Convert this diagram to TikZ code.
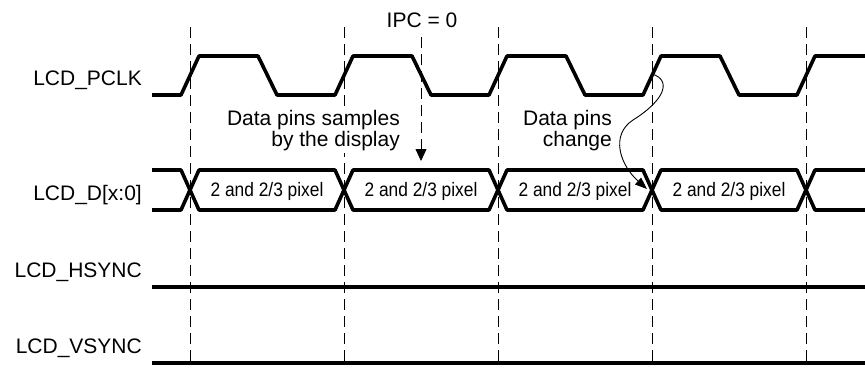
\documentclass[tikz,border=0pt]{standalone}
\usepackage{fontspec}
\setmainfont{Liberation Sans}
\newfontfamily\narrowfont{Liberation Sans}[FakeStretch=0.89]
\usetikzlibrary{arrows.meta}

\begin{document}
\begin{tikzpicture}[
    x=1pt, y=-1pt,
    sig/.style={line width=3.6pt, line join=round},
    guide/.style={dash pattern=on 11pt off 6pt, line width=0.8pt},
    siglabel/.style={anchor=base east, inner sep=0pt, font=\fontsize{21}{24}\selectfont},
    buslabel/.style={anchor=base, inner sep=0pt, font=\narrowfont\fontsize{19.5}{22}\selectfont},
    note/.style={anchor=north east, align=right, fill=white, inner sep=2pt, font=\fontsize{21}{21}\selectfont},
    arrow/.style={-{Triangle[length=12pt,width=11pt]}, line width=0.8pt},
    curvearrow/.style={-{Triangle[length=12pt,width=9pt]}, line width=0.9pt}
]
\useasboundingbox (0,0) rectangle (865,367);

% guide lines
\foreach \c in {190,344,498,652,806}
  \draw[guide] (\c,27) -- (\c,367);

% signal names
\node[siglabel] (pclk) at (142,85) {LCD\_PCLK};
\node[siglabel] (data) at (142,200) {LCD\_D[x:0]};
\node[siglabel] (hsync) at (142,277) {LCD\_HSYNC};
\node[siglabel] (vsync) at (142,353) {LCD\_VSYNC};

% clock
\draw[sig] (152,95) \foreach \c in {190,344,498,652} {
    -- (\c-9,95) -- (\c+9,56) -- (\c+68,56) -- (\c+87,95)
  } -- (797,95) -- (815,56) -- (865,56);

% data bus
\foreach \c [count=\i] in {190,344,498,652} {
  \draw[sig] (\c,190) -- (\c+9,170) -- (\c+145,170) -- (\c+154,190)
    -- (\c+145,210) -- (\c+9,210) -- cycle;
  \node[buslabel] (pix\i) at (\c+77,196.5) {2 and 2/3 pixel};
}
\draw[sig] (152,170) -- (181,170) -- (190,190) -- (181,210) -- (152,210);
\draw[sig] (865,170) -- (815,170) -- (806,190) -- (815,210) -- (865,210);

% sync lines
\draw[sig] (152,287) -- (865,287);
\draw[sig] (152,363) -- (865,363);

% notes
\node[anchor=base, inner sep=0pt, font=\fontsize{21}{24}\selectfont] (ipc) at (422,27) {IPC = 0};
\node[note] (sampnote) at (402,108) {Data pins samples\\by the display};
\node[note] (chgnote) at (614,108) {Data pins\\change};

\coordinate (ipctop) at (421,37);
\coordinate (samplept) at (421,161);
\draw[guide, arrow] (ipctop) -- (samplept);

\coordinate (riseedge) at (652,74);
\coordinate (xing) at (647,189);
\draw[curvearrow] (riseedge) .. controls (672,80) and (665,100) .. (633,120)
  .. controls (610,135) and (620,165) .. (xing);
\end{tikzpicture}
\end{document}
